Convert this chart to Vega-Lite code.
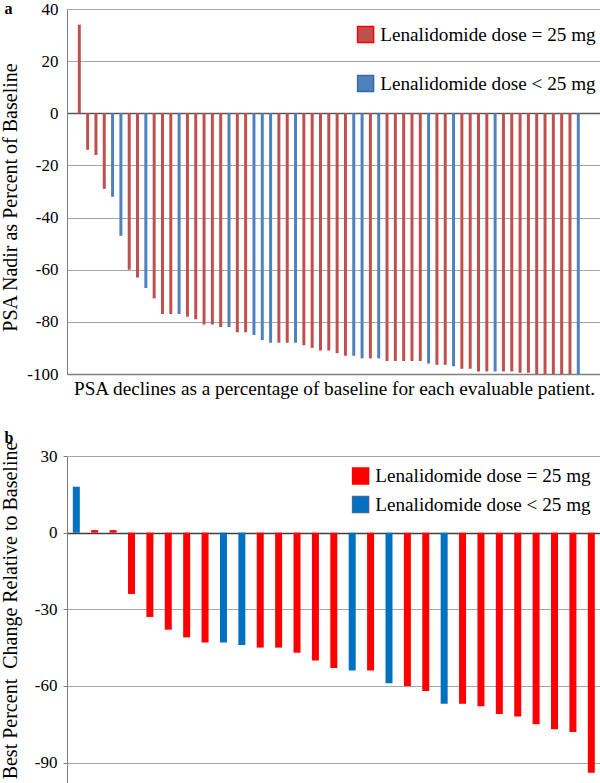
{
  "$schema": "https://vega.github.io/schema/vega-lite/v6.json",
  "background": "white",
  "padding": {"left": 0, "top": 0, "right": 0, "bottom": 0},
  "spacing": 30,
  "resolve": {"scale": {"color": "independent"}, "legend": {"color": "independent"}},
  "config": {
    "font": "Liberation Serif",
    "view": {"stroke": null},
    "axis": {
      "labelFont": "Liberation Serif",
      "labelFontSize": 17,
      "labelColor": "#000000",
      "titleFont": "Liberation Serif",
      "titleFontWeight": "normal",
      "titleColor": "#000000",
      "titleFontSize": 20,
      "domainColor": "#808080",
      "gridColor": "#a6a6a6",
      "gridWidth": 1.2
    },
    "legend": {
      "labelFont": "Liberation Serif",
      "labelFontSize": 19.2,
      "labelColor": "#000000",
      "labelLimit": 400,
      "symbolType": "square",
      "symbolSize": 256,
      "padding": 0,
      "labelOffset": 5
    },
    "title": {"font": "Liberation Serif", "fontWeight": "bold", "fontSize": 16, "color": "#000000"}
  },
  "vconcat": [
    {
      "width": 534,
      "height": 365,
      "title": {"text": "a", "anchor": "start", "frame": "bounds", "offset": -17, "dx": 4},
      "data": {"values": [
        {"patient": 1, "psa": 34, "dose": "Lenalidomide dose = 25 mg"},
        {"patient": 2, "psa": -14, "dose": "Lenalidomide dose = 25 mg"},
        {"patient": 3, "psa": -16, "dose": "Lenalidomide dose = 25 mg"},
        {"patient": 4, "psa": -29, "dose": "Lenalidomide dose = 25 mg"},
        {"patient": 5, "psa": -32, "dose": "Lenalidomide dose < 25 mg"},
        {"patient": 6, "psa": -47, "dose": "Lenalidomide dose < 25 mg"},
        {"patient": 7, "psa": -60, "dose": "Lenalidomide dose = 25 mg"},
        {"patient": 8, "psa": -63, "dose": "Lenalidomide dose = 25 mg"},
        {"patient": 9, "psa": -67, "dose": "Lenalidomide dose < 25 mg"},
        {"patient": 10, "psa": -71, "dose": "Lenalidomide dose = 25 mg"},
        {"patient": 11, "psa": -77, "dose": "Lenalidomide dose = 25 mg"},
        {"patient": 12, "psa": -77, "dose": "Lenalidomide dose = 25 mg"},
        {"patient": 13, "psa": -77, "dose": "Lenalidomide dose < 25 mg"},
        {"patient": 14, "psa": -78, "dose": "Lenalidomide dose = 25 mg"},
        {"patient": 15, "psa": -79, "dose": "Lenalidomide dose = 25 mg"},
        {"patient": 16, "psa": -81, "dose": "Lenalidomide dose = 25 mg"},
        {"patient": 17, "psa": -81, "dose": "Lenalidomide dose = 25 mg"},
        {"patient": 18, "psa": -82, "dose": "Lenalidomide dose = 25 mg"},
        {"patient": 19, "psa": -82, "dose": "Lenalidomide dose < 25 mg"},
        {"patient": 20, "psa": -84, "dose": "Lenalidomide dose = 25 mg"},
        {"patient": 21, "psa": -84, "dose": "Lenalidomide dose = 25 mg"},
        {"patient": 22, "psa": -85, "dose": "Lenalidomide dose < 25 mg"},
        {"patient": 23, "psa": -87, "dose": "Lenalidomide dose < 25 mg"},
        {"patient": 24, "psa": -88, "dose": "Lenalidomide dose < 25 mg"},
        {"patient": 25, "psa": -88, "dose": "Lenalidomide dose = 25 mg"},
        {"patient": 26, "psa": -88, "dose": "Lenalidomide dose = 25 mg"},
        {"patient": 27, "psa": -88, "dose": "Lenalidomide dose < 25 mg"},
        {"patient": 28, "psa": -89, "dose": "Lenalidomide dose = 25 mg"},
        {"patient": 29, "psa": -90, "dose": "Lenalidomide dose = 25 mg"},
        {"patient": 30, "psa": -91, "dose": "Lenalidomide dose = 25 mg"},
        {"patient": 31, "psa": -91, "dose": "Lenalidomide dose = 25 mg"},
        {"patient": 32, "psa": -92, "dose": "Lenalidomide dose = 25 mg"},
        {"patient": 33, "psa": -93, "dose": "Lenalidomide dose = 25 mg"},
        {"patient": 34, "psa": -93, "dose": "Lenalidomide dose < 25 mg"},
        {"patient": 35, "psa": -94, "dose": "Lenalidomide dose < 25 mg"},
        {"patient": 36, "psa": -94, "dose": "Lenalidomide dose = 25 mg"},
        {"patient": 37, "psa": -94, "dose": "Lenalidomide dose < 25 mg"},
        {"patient": 38, "psa": -95, "dose": "Lenalidomide dose = 25 mg"},
        {"patient": 39, "psa": -95, "dose": "Lenalidomide dose = 25 mg"},
        {"patient": 40, "psa": -95, "dose": "Lenalidomide dose = 25 mg"},
        {"patient": 41, "psa": -95, "dose": "Lenalidomide dose = 25 mg"},
        {"patient": 42, "psa": -95, "dose": "Lenalidomide dose = 25 mg"},
        {"patient": 43, "psa": -96, "dose": "Lenalidomide dose < 25 mg"},
        {"patient": 44, "psa": -96.5, "dose": "Lenalidomide dose = 25 mg"},
        {"patient": 45, "psa": -96.5, "dose": "Lenalidomide dose = 25 mg"},
        {"patient": 46, "psa": -97, "dose": "Lenalidomide dose < 25 mg"},
        {"patient": 47, "psa": -98, "dose": "Lenalidomide dose = 25 mg"},
        {"patient": 48, "psa": -98, "dose": "Lenalidomide dose = 25 mg"},
        {"patient": 49, "psa": -99, "dose": "Lenalidomide dose = 25 mg"},
        {"patient": 50, "psa": -99, "dose": "Lenalidomide dose = 25 mg"},
        {"patient": 51, "psa": -99, "dose": "Lenalidomide dose < 25 mg"},
        {"patient": 52, "psa": -99, "dose": "Lenalidomide dose = 25 mg"},
        {"patient": 53, "psa": -99, "dose": "Lenalidomide dose = 25 mg"},
        {"patient": 54, "psa": -99.5, "dose": "Lenalidomide dose = 25 mg"},
        {"patient": 55, "psa": -99.5, "dose": "Lenalidomide dose = 25 mg"},
        {"patient": 56, "psa": -100, "dose": "Lenalidomide dose = 25 mg"},
        {"patient": 57, "psa": -100, "dose": "Lenalidomide dose = 25 mg"},
        {"patient": 58, "psa": -100, "dose": "Lenalidomide dose = 25 mg"},
        {"patient": 59, "psa": -100, "dose": "Lenalidomide dose = 25 mg"},
        {"patient": 60, "psa": -100, "dose": "Lenalidomide dose = 25 mg"},
        {"patient": 61, "psa": -100, "dose": "Lenalidomide dose < 25 mg"}
      ]},
      "mark": {"type": "bar", "width": 3},
      "encoding": {
        "x": {
          "field": "patient", "type": "quantitative",
          "scale": {"domain": [-0.48, 63.73], "nice": false, "zero": false, "padding": 0},
          "axis": {
            "title": "PSA declines as a percentage of baseline for each evaluable patient.",
            "titleFontSize": 19.25,
            "labels": false, "ticks": false, "grid": false, "domain": true, "domainColor": "#7f7f7f", "domainWidth": 1.5,
            "titlePadding": 5
          }
        },
        "y": {
          "field": "psa", "type": "quantitative",
          "scale": {"domain": [-100, 40], "nice": false, "zero": false},
          "axis": {
            "title": "PSA Nadir as Percent of Baseline",
            "values": [40, 20, 0, -20, -40, -60, -80, -100],
            "labelExpr": "'' + datum.value",
            "ticks": false,
            "labelPadding": 9,
            "titleX": -50.5,
            "titleY": 188,
            "titleBaseline": "alphabetic",
            "domainColor": "#7f7f7f",
            "gridColor": {"condition": {"test": "datum.value === 0", "value": "#595959"}, "value": "#a6a6a6"},
            "gridWidth": {"condition": {"test": "datum.value === 0", "value": 1.5}, "value": 1.2}
          }
        },
        "color": {
          "field": "dose", "type": "nominal",
          "scale": {"domain": ["Lenalidomide dose = 25 mg", "Lenalidomide dose < 25 mg"], "range": ["#c0504d", "#4f81bd"]},
          "legend": {
            "title": null, "orient": "none", "legendX": 289, "legendY": 16, "rowPadding": 26,
            "encode": {"symbols": {"update": {
              "stroke": {"signal": "datum.value === 'Lenalidomide dose = 25 mg' ? '#ff0000' : '#3c6aa0'"},
              "strokeWidth": {"value": 1.5}
            }}}
          }
        }
      }
    },
    {
      "width": 534,
      "height": 327,
      "title": {"text": "b", "anchor": "start", "frame": "bounds", "offset": -4.5, "dx": 4},
      "data": {"values": [
        {"patient": 1, "change": 18, "dose": "Lenalidomide dose < 25 mg"},
        {"patient": 2, "change": 1, "dose": "Lenalidomide dose = 25 mg"},
        {"patient": 3, "change": 1, "dose": "Lenalidomide dose = 25 mg"},
        {"patient": 4, "change": -24, "dose": "Lenalidomide dose = 25 mg"},
        {"patient": 5, "change": -33, "dose": "Lenalidomide dose = 25 mg"},
        {"patient": 6, "change": -38, "dose": "Lenalidomide dose = 25 mg"},
        {"patient": 7, "change": -41, "dose": "Lenalidomide dose = 25 mg"},
        {"patient": 8, "change": -43, "dose": "Lenalidomide dose = 25 mg"},
        {"patient": 9, "change": -43, "dose": "Lenalidomide dose < 25 mg"},
        {"patient": 10, "change": -44, "dose": "Lenalidomide dose < 25 mg"},
        {"patient": 11, "change": -45, "dose": "Lenalidomide dose = 25 mg"},
        {"patient": 12, "change": -45, "dose": "Lenalidomide dose = 25 mg"},
        {"patient": 13, "change": -47, "dose": "Lenalidomide dose = 25 mg"},
        {"patient": 14, "change": -50, "dose": "Lenalidomide dose = 25 mg"},
        {"patient": 15, "change": -53, "dose": "Lenalidomide dose = 25 mg"},
        {"patient": 16, "change": -54, "dose": "Lenalidomide dose < 25 mg"},
        {"patient": 17, "change": -54, "dose": "Lenalidomide dose = 25 mg"},
        {"patient": 18, "change": -59, "dose": "Lenalidomide dose < 25 mg"},
        {"patient": 19, "change": -60, "dose": "Lenalidomide dose = 25 mg"},
        {"patient": 20, "change": -62, "dose": "Lenalidomide dose = 25 mg"},
        {"patient": 21, "change": -67, "dose": "Lenalidomide dose < 25 mg"},
        {"patient": 22, "change": -67, "dose": "Lenalidomide dose = 25 mg"},
        {"patient": 23, "change": -68, "dose": "Lenalidomide dose = 25 mg"},
        {"patient": 24, "change": -71, "dose": "Lenalidomide dose = 25 mg"},
        {"patient": 25, "change": -72, "dose": "Lenalidomide dose = 25 mg"},
        {"patient": 26, "change": -75, "dose": "Lenalidomide dose = 25 mg"},
        {"patient": 27, "change": -77, "dose": "Lenalidomide dose = 25 mg"},
        {"patient": 28, "change": -78, "dose": "Lenalidomide dose = 25 mg"},
        {"patient": 29, "change": -94, "dose": "Lenalidomide dose = 25 mg"}
      ]},
      "mark": {"type": "bar", "width": 7},
      "encoding": {
        "x": {
          "field": "patient", "type": "quantitative",
          "scale": {"domain": [0.494, 29.527], "nice": false, "zero": false, "padding": 0},
          "axis": null
        },
        "y": {
          "field": "change", "type": "quantitative",
          "scale": {"domain": [-98, 30], "nice": false, "zero": false},
          "axis": {
            "title": "Best Percent\u00a0 Change Relative to Baseline",
            "values": [30, 0, -30, -60, -90],
            "labelExpr": "'' + datum.value",
            "ticks": true, "tickSize": 4, "tickColor": "#7f7f7f",
            "labelPadding": 6,
            "titleX": -50.5,
            "titleY": 154,
            "titleBaseline": "alphabetic",
            "domainColor": "#7f7f7f",
            "gridColor": {"condition": {"test": "datum.value === 0", "value": "#404040"}, "value": "#a6a6a6"},
            "gridWidth": {"condition": {"test": "datum.value === 0", "value": 1.5}, "value": 1.2}
          }
        },
        "color": {
          "field": "dose", "type": "nominal",
          "scale": {"domain": ["Lenalidomide dose = 25 mg", "Lenalidomide dose < 25 mg"], "range": ["#ff0000", "#0070c0"]},
          "legend": {
            "title": null, "orient": "none", "legendX": 284, "legendY": 10.5, "rowPadding": 5.5,
            "encode": {"symbols": {"update": {
              "fill": {"signal": "datum.value === 'Lenalidomide dose = 25 mg' ? '#c0504d' : '#4f81bd'"},
              "stroke": {"signal": "datum.value === 'Lenalidomide dose = 25 mg' ? '#ff0000' : '#3c6aa0'"},
              "strokeWidth": {"value": 1.5}
            }}}
          }
        }
      }
    }
  ]
}
